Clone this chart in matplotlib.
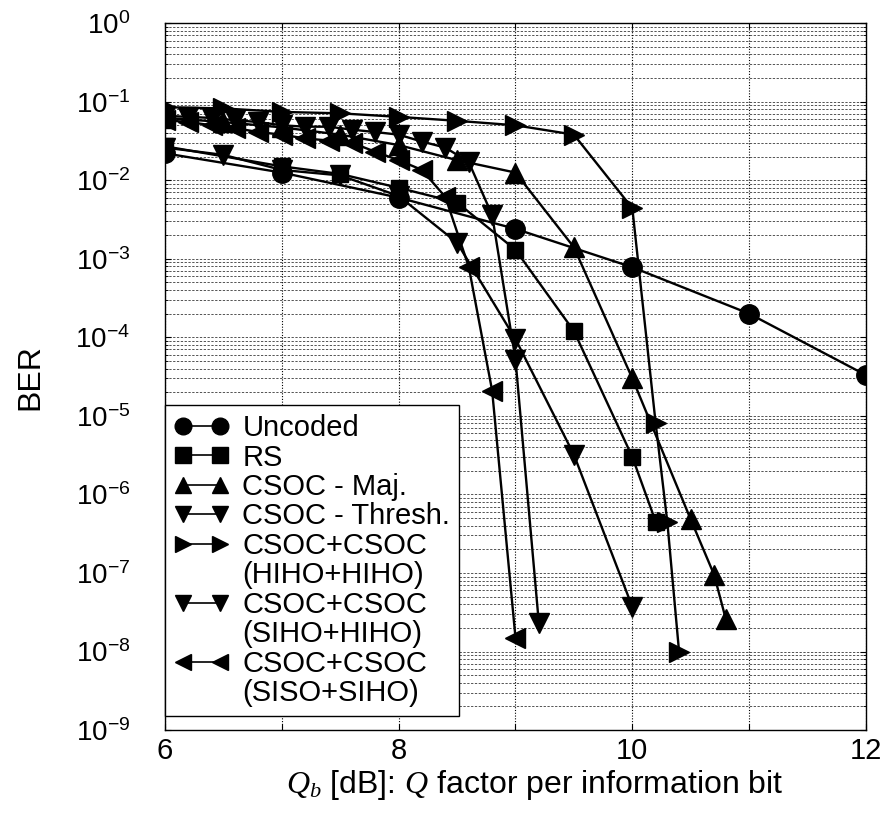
import matplotlib
matplotlib.use('Agg')
import matplotlib.pyplot as plt
from matplotlib.lines import Line2D

plt.rcParams['font.family'] = ['Liberation Sans', 'DejaVu Sans']
plt.rcParams['mathtext.fontset'] = 'custom'
plt.rcParams['mathtext.rm'] = 'Liberation Sans'
plt.rcParams['mathtext.it'] = 'Liberation Serif:italic'
plt.rcParams['mathtext.bf'] = 'Liberation Sans:bold'

# ---- data ----
uncoded_x = [6, 7, 8, 9, 10, 11, 12]
uncoded_y = [2.2e-2, 1.25e-2, 6.0e-3, 2.4e-3, 7.8e-4, 2.0e-4, 3.3e-5]

rs_x = [6, 7, 7.5, 8, 8.5, 9, 9.5, 10, 10.2]
rs_y = [2.7e-2, 1.5e-2, 1.2e-2, 8.0e-3, 5.2e-3, 1.3e-3, 1.2e-4, 3.0e-6, 4.5e-7]

maj_x = [6, 6.5, 7, 7.5, 8, 8.5, 9, 9.5, 10, 10.5, 10.7, 10.8]
maj_y = [0.062, 0.055, 0.047, 0.038, 0.028, 0.018, 0.0125, 1.4e-3, 3.0e-5, 4.8e-7, 9.5e-8, 2.6e-8]

thr_x = [6, 6.5, 7, 7.5, 8, 8.5, 9, 9.5, 10]
thr_y = [0.026, 0.021, 0.0135, 0.0115, 6.3e-3, 1.6e-3, 9.5e-5, 3.2e-6, 3.7e-8]

hh_x = [6, 6.5, 7, 7.5, 8, 8.5, 9, 9.5, 10, 10.2, 10.3, 10.4]
hh_y = [0.085, 0.082, 0.074, 0.071, 0.064, 0.057, 0.050, 0.038, 4.4e-3, 8.0e-6, 4.4e-7, 1.0e-8]

sh_x = [6, 6.2, 6.4, 6.6, 6.8, 7, 7.2, 7.4, 7.6, 7.8, 8, 8.2, 8.4, 8.6, 8.8, 9, 9.2]
sh_y = [0.066, 0.064, 0.062, 0.058, 0.055, 0.050, 0.048, 0.048, 0.044, 0.041, 0.038,
        0.031, 0.026, 0.017, 3.6e-3, 5.2e-5, 2.3e-8]

ss_x = [6, 6.2, 6.4, 6.6, 6.8, 7, 7.2, 7.4, 7.6, 7.8, 8, 8.2, 8.4, 8.6, 8.8, 9]
ss_y = [0.058, 0.055, 0.050, 0.046, 0.041, 0.038, 0.034, 0.032, 0.030, 0.023, 0.018,
        0.0135, 6.1e-3, 7.9e-4, 2.1e-5, 1.5e-8]

labels = ['Uncoded', 'RS', 'CSOC - Maj.', 'CSOC - Thresh.',
          'CSOC+CSOC', 'CSOC+CSOC', 'CSOC+CSOC']
second_lines = [None, None, None, None, '(HIHO+HIHO)', '(SIHO+HIHO)', '(SISO+SIHO)']

x_ticks = [6, 7, 8, 9, 10, 11, 12]
x_ticklabels = ['6', '', '8', '', '10', '', '12']
y_exps = [0, -1, -2, -3, -4, -5, -6, -7, -8, -9]

series = [
    (uncoded_x, uncoded_y, 'o', 14),
    (rs_x, rs_y, 's', 12),
    (maj_x, maj_y, '^', 15),
    (thr_x, thr_y, 'v', 15),
    (hh_x, hh_y, '>', 15),
    (sh_x, sh_y, 'v', 15),
    (ss_x, ss_y, '<', 15),
]

fig = plt.figure(figsize=(8.9, 8.13), dpi=100)
ax = fig.add_axes([0.1854, 0.102, 0.7876, 0.8696])

for (xs, ys, m, ms) in series:
    ax.plot(xs, ys, color='k', lw=1.7, marker=m, markersize=ms,
            markerfacecolor='k', markeredgecolor='k')

ax.set_yscale('log')
ax.set_xlim(6, 12)
ax.set_ylim(1e-9, 1e0)

ax.set_xticks(x_ticks)
ax.set_xticklabels(x_ticklabels)
ax.set_yticks([10.0 ** e for e in y_exps])
ax.set_yticklabels([r'$\mathregular{10^{%d}}$' % e for e in y_exps])

ax.grid(True, which='both', axis='y', linestyle=(0, (3, 2)), color='k', lw=0.55, alpha=0.85)
ax.grid(True, which='major', axis='x', linestyle=(0, (1, 1.5)), color='k', lw=0.8)

ax.tick_params(axis='both', which='both', direction='in', top=True, right=True)
ax.tick_params(axis='x', which='major', labelsize=21, pad=5, length=4)
ax.tick_params(axis='y', which='major', labelsize=20, pad=25, length=4)
ax.tick_params(axis='y', which='minor', length=2)

for sp in ax.spines.values():
    sp.set_linewidth(1.0)

ax.set_ylabel('BER', fontsize=23)
ax.yaxis.set_label_coords(-0.171, 0.5)
ax.set_xlabel(r'$Q_b$ [dB]: $Q$ factor per information bit', fontsize=23)
ax.xaxis.set_label_coords(0.527, -0.053)
ax.xaxis.label.set_verticalalignment('top')

# legend with handle aligned to first text line
handles = []
leg_labels = []
for (xs, ys, m, ms), lab, sec in zip(series, labels, second_lines):
    handles.append(Line2D([], [], color='k', lw=1.2, marker=m, markersize=12,
                          markerfacecolor='k', markeredgecolor='k'))
    leg_labels.append(lab)
    if sec is not None:
        handles.append(Line2D([], [], linestyle='none', marker=None))
        leg_labels.append(sec)

leg = ax.legend(handles, leg_labels, loc='lower left', bbox_to_anchor=(0.0, 0.02),
                borderaxespad=0.0, fontsize=21, numpoints=2, handlelength=1.9,
                handletextpad=0.45, labelspacing=0.05, borderpad=0.3,
                fancybox=False, framealpha=1.0, edgecolor='k')
leg.get_frame().set_linewidth(1.0)

fig.savefig('out.png', dpi=100)
